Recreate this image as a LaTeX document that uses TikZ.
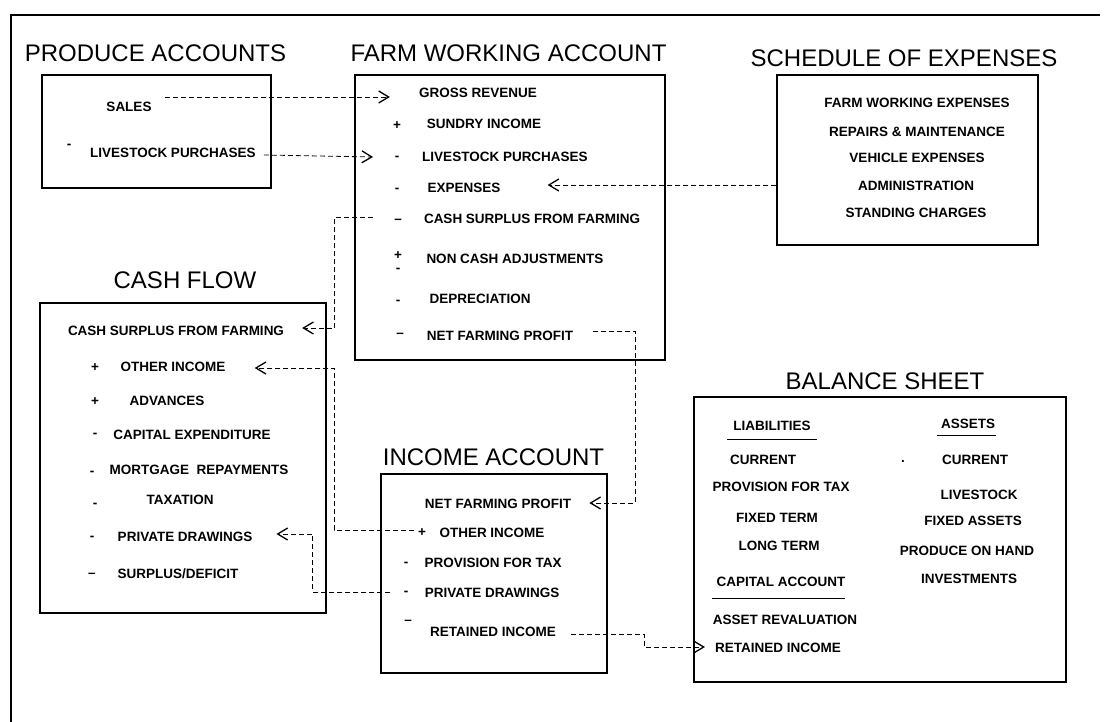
\documentclass[tikz,border=0pt]{standalone}
\usepackage{fontspec}
\setmainfont{Liberation Sans}
\usetikzlibrary{arrows.meta}

\begin{document}
\begin{tikzpicture}[x=1pt,y=-1pt,
    box/.style={draw, line width=1.1pt, inner sep=0pt},
    head/.style={anchor=base, inner sep=0pt, font=\fontsize{24}{28}\selectfont},
    item/.style={inner sep=0pt, text height=10pt, text depth=0pt,
      font=\bfseries\fontsize{13.5}{16}\selectfont},
    sgn/.style={inner sep=0pt, font=\bfseries\fontsize{13.5}{16}\selectfont},
    link/.style={line width=0.8pt, dash pattern=on 5pt off 3pt,
      -{Straight Barb[length=10pt,width=12pt,line width=1.3pt]}}
  ]
    \useasboundingbox (0,0) rectangle (1105,722);
    \draw [line width=1.5pt] (1100,15) -- (11,15) -- (11,722);

    % boxes and their headings
    \node [box, minimum width=229pt, minimum height=113pt] (produce) at (156.5,131.5) {};
    \node [box, minimum width=310pt, minimum height=285pt] (farm) at (510,217.5) {};
    \node [box, minimum width=261pt, minimum height=170pt] (sched) at (907.5,160) {};
    \node [box, minimum width=286pt, minimum height=310pt] (cash) at (183,458) {};
    \node [box, minimum width=226pt, minimum height=199pt] (income) at (494,573.5) {};
    \node [box, minimum width=372pt, minimum height=285pt] (balance) at (880,539.5) {};

    \node [head] (t-produce) at (155.5,62) {PRODUCE ACCOUNTS};
    \node [head] (t-farm) at (508.5,62) {FARM WORKING ACCOUNT};
    \node [head] (t-sched) at (904,67) {SCHEDULE OF EXPENSES};
    \node [head] (t-cash) at (185,288) {CASH FLOW};
    \node [head] (t-income) at (493.5,465) {INCOME ACCOUNT};
    \node [head] (t-balance) at (885,389) {BALANCE SHEET};

    % produce accounts
    \node [item] (sales) at (129,107) {SALES};
    \node [sgn] (p1) at (69,146) {-};
    \node [item] (livestockA) at (173,153) {LIVESTOCK PURCHASES};

    % farm working account
    \node [item] (gross) at (478,93) {GROSS REVENUE};
    \node [sgn] (f1) at (397,126) {+};
    \node [item] (sundry) at (484,124) {SUNDRY INCOME};
    \node [sgn] (f2) at (397,158) {-};
    \node [item] (livestockB) at (505,157) {LIVESTOCK PURCHASES};
    \node [sgn] (f3) at (397,190) {-};
    \node [item] (expenses) at (464,188) {EXPENSES};
    \node [sgn] (f4) at (398,221) {--};
    \node [item] (surplusA) at (532,218) {CASH SURPLUS FROM FARMING};
    \node [sgn] (f5) at (398,256) {+};
    \node [sgn] (f6) at (398,270) {-};
    \node [item] (noncash) at (515,258) {NON CASH ADJUSTMENTS};
    \node [sgn] (f7) at (398,302) {-};
    \node [item] (deprec) at (480,298) {DEPRECIATION};
    \node [sgn] (f8) at (400,335) {--};
    \node [item] (profitA) at (500,335) {NET FARMING PROFIT};

    % schedule of expenses
    \node [item] (fwexp) at (917,103) {FARM WORKING EXPENSES};
    \node [item] (repairs) at (917,132) {REPAIRS \& MAINTENANCE};
    \node [item] (vehicle) at (917,158) {VEHICLE EXPENSES};
    \node [item] (admin) at (916,185) {ADMINISTRATION};
    \node [item] (standing) at (916,212) {STANDING CHARGES};

    % cash flow
    \node [item] (surplusB) at (176,330) {CASH SURPLUS FROM FARMING};
    \node [sgn] (c1) at (95,368) {+};
    \node [item] (otherA) at (173,366) {OTHER INCOME};
    \node [sgn] (c2) at (95,402) {+};
    \node [item] (advances) at (167,400) {ADVANCES};
    \node [sgn] (c3) at (95,435) {-};
    \node [item] (capex) at (192,434) {CAPITAL EXPENDITURE};
    \node [sgn] (c4) at (92,473) {-};
    \node [item] (mortgage) at (199,469) {MORTGAGE\ \ REPAYMENTS};
    \node [sgn] (c5) at (95,505) {-};
    \node [item] (taxation) at (180,499) {TAXATION};
    \node [sgn] (c6) at (92,538) {-};
    \node [item] (drawingsA) at (185,536) {PRIVATE DRAWINGS};
    \node [sgn] (c7) at (92,575) {--};
    \node [item] (deficit) at (178,573) {SURPLUS/DEFICIT};

    % income account
    \node [item] (profitB) at (498,503) {NET FARMING PROFIT};
    \node [sgn] (i1) at (422,533) {+};
    \node [item] (otherB) at (492,532) {OTHER INCOME};
    \node [sgn] (i2) at (406,564) {-};
    \node [item] (provisionA) at (493,562) {PROVISION FOR TAX};
    \node [sgn] (i3) at (406,593) {-};
    \node [item] (drawingsB) at (492,592) {PRIVATE DRAWINGS};
    \node [sgn] (i4) at (408,622) {--};
    \node [item] (retainedA) at (493,631) {RETAINED INCOME};

    % balance sheet
    \node [item] (liab) at (772,425) {LIABILITIES};
    \node [item] (assets) at (968,423) {ASSETS};
    \draw ([shift={(-6,9)}]liab.south west) -- ([shift={(6,9)}]liab.south east);
    \draw ([shift={(-4,7)}]assets.south west) -- ([shift={(1,7)}]assets.south east);
    \node [item] (currentA) at (763,459) {CURRENT};
    \node [sgn] (b1) at (903,461) {.};
    \node [item] (currentB) at (975,459) {CURRENT};
    \node [item] (provisionB) at (781,486) {PROVISION FOR TAX};
    \node [item] (livestockC) at (979,494) {LIVESTOCK};
    \node [item] (fixedterm) at (777,517) {FIXED TERM};
    \node [item] (fixedassets) at (973,520) {FIXED ASSETS};
    \node [item] (longterm) at (779,545) {LONG TERM};
    \node [item] (onhand) at (967,550) {PRODUCE ON HAND};
    \node [item] (capital) at (781,581) {CAPITAL ACCOUNT};
    \draw ([shift={(-4,12)}]capital.south west) -- ([shift={(-1,12)}]capital.south east);
    \node [item] (invest) at (969,578) {INVESTMENTS};
    \node [item] (revalue) at (785,619) {ASSET REVALUATION};
    \node [item] (retainedB) at (778,647) {RETAINED INCOME};

    % transfers between the accounts
    \draw [link] ([shift={(13,-10)}]sales.east) -- ([shift={(-29,4)}]gross.west);
    \draw [link] ([shift={(8,2)}]livestockA.east) -- ([shift={(-49,0)}]livestockB.west);
    \draw [link] (sched.west |- admin) -- ([shift={(47,-3)}]expenses.east);
    \draw [link] ([shift={(-51,-1)}]surplusA.west) -- ++(-38,0)
      |- ([shift={(18,-2)}]surplusB.east);
    \draw [link] ([shift={(20,-4)}]profitA.east) -- ++(42,0)
      |- ([shift={(18,0)}]profitB.east);
    \draw [link] ([shift={(-25,-2)}]otherB.west) -- ++(-80,0)
      |- ([shift={(29,2)}]otherA.east);
    \draw [link] ([shift={(-35,0)}]drawingsB.west) -- ++(-77,0)
      |- ([shift={(24,-2)}]drawingsA.east);
    \draw [link] ([shift={(15,3)}]retainedA.east) -- ++(73,0)
      |- ([shift={(-10,0)}]retainedB.west);
  \end{tikzpicture}
\end{document}
